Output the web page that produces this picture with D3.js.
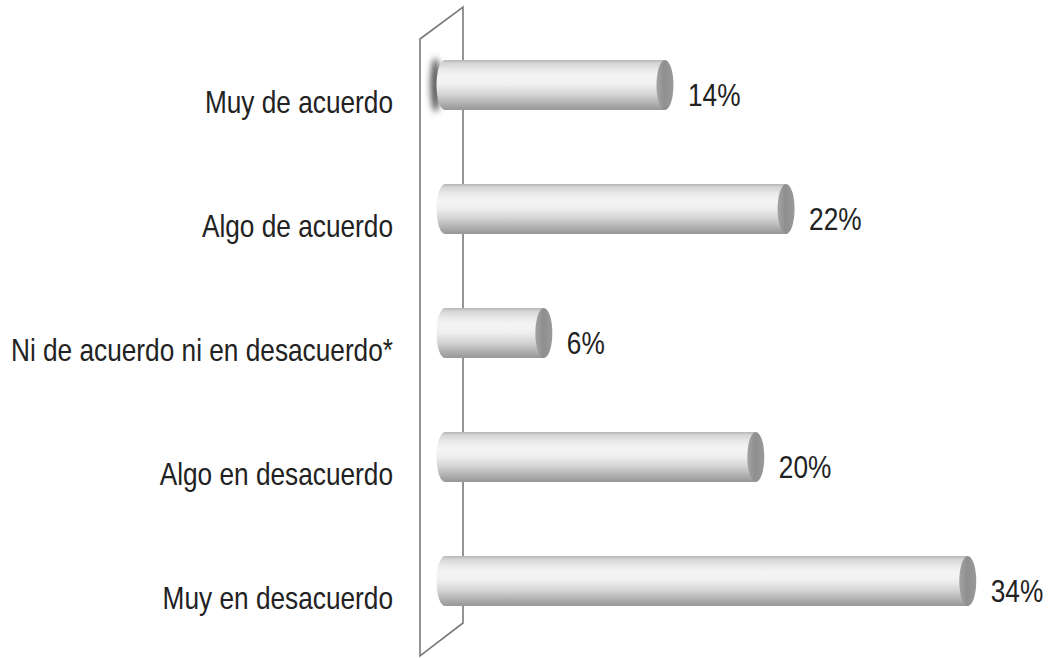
<!DOCTYPE html>
<html>
<head>
<meta charset="utf-8">
<script src="https://cdn.jsdelivr.net/npm/d3@7/dist/d3.min.js"></script>
<style>
  html, body { margin: 0; padding: 0; background: #fff; }
  svg { display: block; }
  .lbl { font-family: "Liberation Sans", Arial, sans-serif; fill: #222; }
</style>
</head>
<body>
<svg id="chart" width="1060" height="658"></svg>
<script>
const categories = ["Muy de acuerdo", "Algo de acuerdo", "Ni de acuerdo ni en desacuerdo*", "Algo en desacuerdo", "Muy en desacuerdo"];
const values = [14, 22, 6, 20, 34];
const valueLabels = ["14%", "22%", "6%", "20%", "34%"];

const svg = d3.select("#chart");
const narrow = 0.82; // emulate a narrow (condensed) typeface

const x = d3.scaleLinear().domain([0, 40]).range([453, 1058.6]);
const y = d3.scalePoint().domain(categories).range([85, 581]);
const barH = 50, capRx = 8.5, leftInset = 8;

const defs = svg.append("defs");
const body = defs.append("linearGradient").attr("id", "bodyGrad")
  .attr("x1", 0).attr("y1", 0).attr("x2", 0).attr("y2", 1);
[[0, "#b4b4b4"], [0.06, "#d4d4d4"], [0.2, "#ebebeb"], [0.35, "#f5f5f5"], [0.5, "#eeeeee"],
 [0.7, "#d2d2d2"], [0.88, "#adadad"], [1, "#979797"]].forEach(([o, c]) =>
  body.append("stop").attr("offset", o).attr("stop-color", c));
const cap = defs.append("linearGradient").attr("id", "capGrad")
  .attr("x1", 0).attr("y1", 0).attr("x2", 1).attr("y2", 0);
[[0, "#a4a4a4"], [0.45, "#8f8f8f"], [1, "#9a9a9a"]].forEach(([o, c]) =>
  cap.append("stop").attr("offset", o).attr("stop-color", c));
defs.append("filter").attr("id", "blur").attr("x", "-300%").attr("y", "-50%").attr("width", "700%").attr("height", "200%")
  .append("feGaussianBlur").attr("stdDeviation", 3);

// wall
svg.append("path")
  .attr("d", "M420,39 L463,7 L463,623 L420,656 Z")
  .attr("fill", "#fff").attr("stroke", "#7a7a7a").attr("stroke-width", 1.6);

// shadow at first bar
svg.append("ellipse")
  .attr("cx", x(0) - leftInset - capRx - 1).attr("cy", y(categories[0]))
  .attr("rx", 5).attr("ry", barH / 2 + 2)
  .attr("fill", "#555").attr("filter", "url(#blur)");

const g = svg.append("g").selectAll("g").data(categories).join("g")
  .attr("transform", d => `translate(0,${y(d)})`);

g.append("ellipse").attr("cx", x(0) - leftInset).attr("cy", 0).attr("rx", capRx).attr("ry", barH / 2)
  .attr("fill", "url(#bodyGrad)");
g.append("rect").attr("x", x(0) - leftInset).attr("y", -barH / 2)
  .attr("width", (d, i) => x(values[i]) - x(0) + leftInset).attr("height", barH)
  .attr("fill", "url(#bodyGrad)");
g.append("ellipse").attr("cx", (d, i) => x(values[i])).attr("cy", 0)
  .attr("rx", capRx).attr("ry", barH / 2)
  .attr("fill", "url(#capGrad)");

g.append("text").attr("class", "lbl")
  .attr("transform", (d, i) => `translate(${x(values[i]) + 23},21) scale(${narrow},1)`)
  .attr("font-size", 32)
  .text((d, i) => valueLabels[i]);

svg.append("g").selectAll("text").data(categories).join("text")
  .attr("class", "lbl")
  .attr("transform", d => `translate(393,${y(d) + 28}) scale(${narrow},1)`)
  .attr("text-anchor", "end")
  .attr("font-size", 32)
  .text(d => d);
</script>
</body>
</html>
